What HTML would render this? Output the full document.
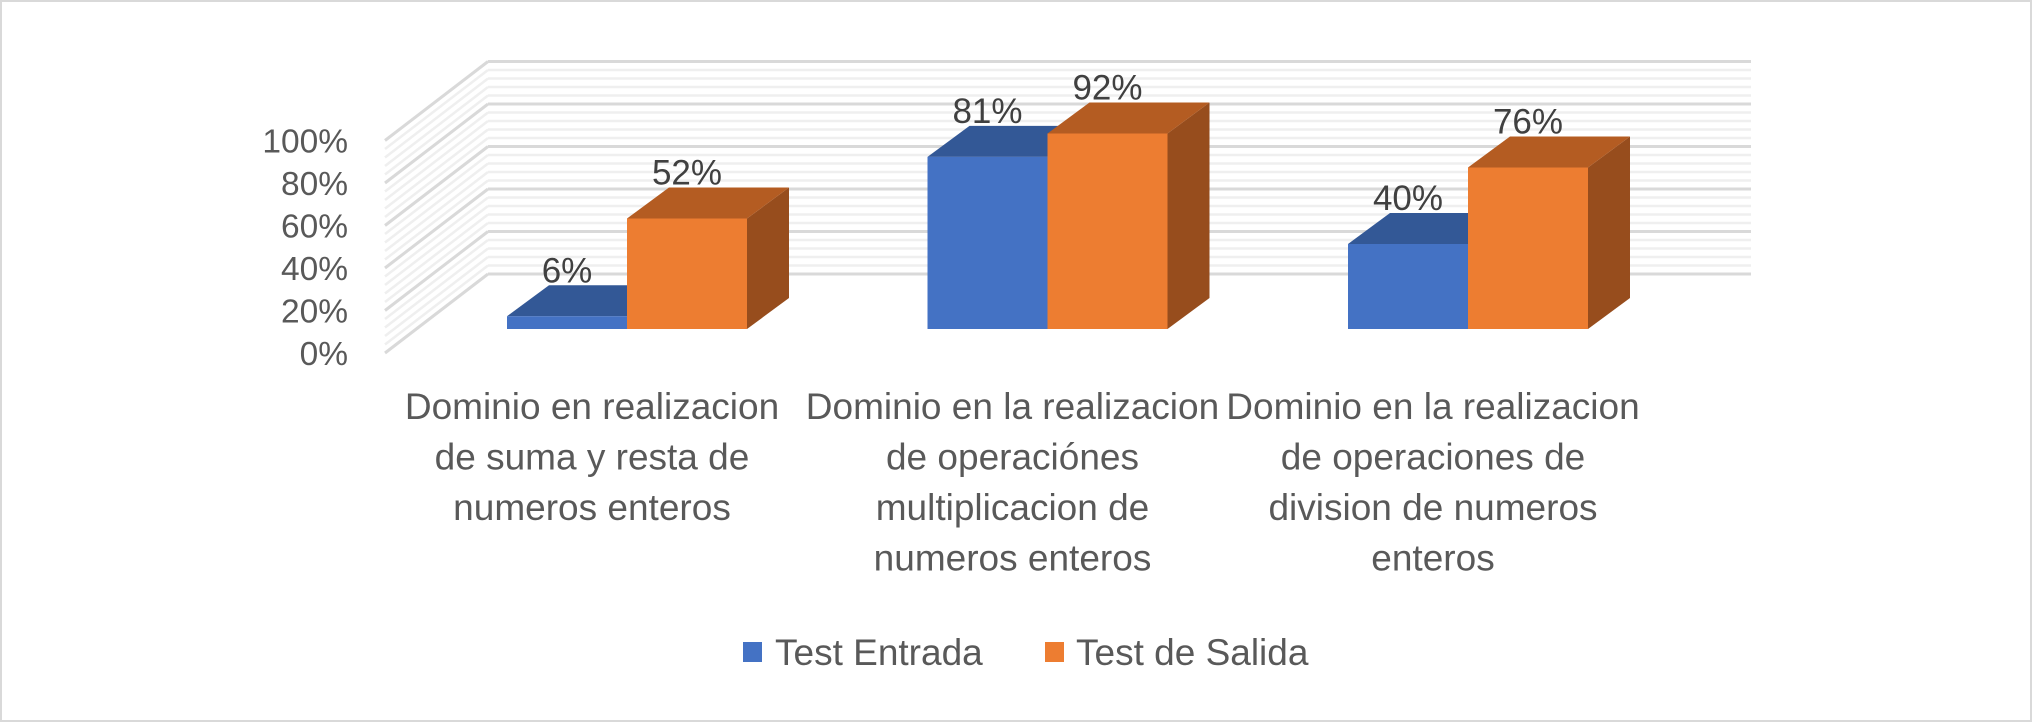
<!DOCTYPE html>
<html><head><meta charset="utf-8"><style>
html,body{margin:0;padding:0;background:#fff;}
svg{display:block;font-family:"Liberation Sans",sans-serif;}
</style></head><body>
<svg id="chart" width="2032" height="722" viewBox="0 0 2032 722" xmlns="http://www.w3.org/2000/svg">
<rect x="1" y="1" width="2030" height="720" fill="#fff" stroke="#d9d9d9" stroke-width="2"/>
<g id="grid"></g>
<g id="bars"></g>
<g id="labels"></g>
<g>
<rect x="743" y="642" width="19" height="20" fill="#4472C4"/>
<text x="775" y="665" font-size="37" fill="#595959">Test Entrada</text>
<rect x="1045" y="642" width="19" height="20" fill="#ED7D31"/>
<text x="1076" y="665" font-size="37" fill="#595959">Test de Salida</text>
</g>
</svg>
<script>
const categories=[["Dominio en realizacion","de suma  y resta de","numeros enteros"],["Dominio en la realizacion","de  operaciónes","multiplicacion de","numeros enteros"],["Dominio en la realizacion","de operaciones de","division de numeros","enteros"]];
const testEntrada=[6,81,40];
const testSalida=[52,92,76];
const yTicks=[0,20,40,60,80,100];
const NS="http://www.w3.org/2000/svg";
function mk(tag,attrs,parent){const e=document.createElementNS(NS,tag);for(const k in attrs)e.setAttribute(k,attrs[k]);parent.appendChild(e);return e;}
const backX0=488,backX1=1751,backY0=274,pxPer=2.125,frontX=385,wallDy=79;
const barBase=329,dx=42,dy=-31,barW=120;
const groupX0=507,groupStep=420.5;
function yBack(v){return backY0-v*pxPer;}
function yBar(v){return barBase-v*pxPer;}
const grid=document.getElementById('grid');
for(let v=0;v<=100;v+=4){
  const major=v%20===0;const y=yBack(v);
  const col=major?"#d9d9d9":"#efefef",w=major?3:2.5;
  const l1=mk('line',{x1:backX0,y1:y,x2:backX1,y2:y,stroke:col,'stroke-width':w},grid);
  
  
  const l2=mk('line',{x1:backX0,y1:y,x2:frontX,y2:y+wallDy,stroke:col,'stroke-width':w},grid);
  
  
}
const labels=document.getElementById('labels');
yTicks.forEach(v=>{
  const t=mk('text',{x:348,y:yBack(v)+wallDy+12,'font-size':33.5,fill:'#595959','text-anchor':'end'},labels);
  t.textContent=v+'%';
  
  
});
const bars=document.getElementById('bars');
function bar(x,v,front,top,side,name){
  const yt=yBar(v),g=mk('g',{},bars);
  
  
  mk('polygon',{points:`${x+barW},${barBase} ${x+barW+dx},${barBase+dy} ${x+barW+dx},${yt+dy} ${x+barW},${yt}`,fill:side},g);
  mk('polygon',{points:`${x},${yt} ${x+dx},${yt+dy} ${x+barW+dx},${yt+dy} ${x+barW},${yt}`,fill:top},g);
  mk('rect',{x:x,y:yt,width:barW,height:barBase-yt,fill:front},g);
  const t=mk('text',{x:x+barW/2,y:yt+dy-3,'font-size':35,fill:'#404040','text-anchor':'middle'},labels);
  t.textContent=v+'%';
  
  
}
categories.forEach((c,i)=>{
  const x=groupX0+i*groupStep;
  bar(x,testEntrada[i],'#4472C4','#335896','#2c4d86','bar-test-entrada');
  bar(x+barW,testSalida[i],'#ED7D31','#B45C22','#974D1D','bar-test-salida');
  c.forEach((line,j)=>{
    const t=mk('text',{x:x+85,y:419+j*50.5,'font-size':37,fill:'#595959','text-anchor':'middle','xml:space':'preserve'},labels);
    t.textContent=line;
    
    
  });
});
</script>
</body></html>
